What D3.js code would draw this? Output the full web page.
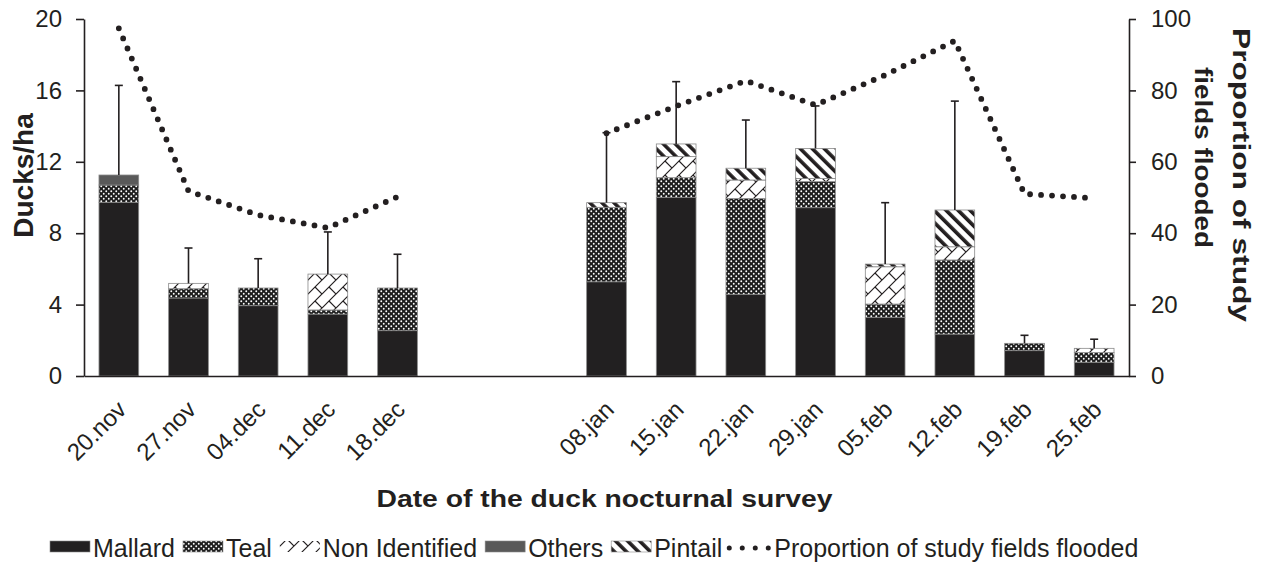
<!DOCTYPE html>
<html><head><meta charset="utf-8">
<script src="https://cdn.jsdelivr.net/npm/d3@7"></script>
<style>
body{margin:0;background:#fff}
text{font-family:"Liberation Sans",Arial,sans-serif;fill:#231f20}
</style>
</head><body>
<svg id="chart" width="1272" height="564"></svg>
<script>
// ---------- data ----------
const categories = ["20.nov","27.nov","04.dec","11.dec","18.dec","gap1","gap2","08.jan","15.jan","22.jan","29.jan","05.feb","12.feb","19.feb","25.feb"];
const tickLabels = ["20.nov","27.nov","04.dec","11.dec","18.dec","","","08.jan","15.jan","22.jan","29.jan","05.feb","12.feb","19.feb","25.feb"];
const mallard  = [9.73, 4.37, 3.94, 3.47, 2.54, null, null, 5.28, 10.01, 4.58, 9.43, 3.29, 2.35, 1.42, 0.77];
const teal     = [0.97, 0.52, 0.99, 0.23, 2.39, null, null, 4.17, 1.10, 5.37, 1.46, 0.74, 4.15, 0.41, 0.54];
const nonIdent = [0,    0.30, 0,    2.01, 0,    null, null, 0,    1.18, 1.03, 0.18, 2.09, 0.74, 0,    0.24];
const others   = [0.56, 0,    0,    0,    0,    null, null, 0,    0,    0,    0,    0,    0,    0,    0];
const pintail  = [0,    0,    0,    0,    0,    null, null, 0.26, 0.71, 0.66, 1.68, 0.15, 2.06, 0,    0];
const sdUpper  = [5.02, 1.98, 1.64, 2.36, 1.89, null, null, 3.92, 3.49, 2.70, 2.38, 3.44, 6.10, 0.45, 0.51];
const flooded  = [97.4, 51.8, 45.1, 41.5, 50.2, null, null, 68.0, 75.6, 82.7, 75.9, 84.3, 93.9, 51.0, 49.8];
const leftTicks  = [0, 4, 8, 12, 16, 20];
const rightTicks = [0, 20, 40, 60, 80, 100];
const seriesNames = ["Mallard","Teal","Non Identified","Others","Pintail"];
const lineName = "Proportion of study fields flooded";

// ---------- setup ----------
const svg = d3.select("#chart");
const mLeft = 84, mRight = 1129, mTop = 19, mBottom = 376;
const ink = "#231f20";

const x = d3.scaleBand().domain(categories).range([mLeft, mRight]).paddingInner(0.43).paddingOuter(0.215);
const y = d3.scaleLinear().domain([0, 20]).range([mBottom, mTop]);
const y2 = d3.scaleLinear().domain([0, 100]).range([mBottom, mTop]);

// ---------- patterns ----------
const defs = svg.append("defs");
const pTeal = defs.append("pattern").attr("id","pTeal").attr("patternUnits","userSpaceOnUse").attr("width",5).attr("height",5);
pTeal.append("rect").attr("width",5).attr("height",5).attr("fill","#1e1e1e");
pTeal.append("circle").attr("cx",1.25).attr("cy",1.25).attr("r",0.95).attr("fill","#fff");
pTeal.append("circle").attr("cx",3.75).attr("cy",3.75).attr("r",0.95).attr("fill","#fff");

const pNI = defs.append("pattern").attr("id","pNI").attr("patternUnits","userSpaceOnUse").attr("width",14).attr("height",14);
pNI.append("rect").attr("width",14).attr("height",14).attr("fill","#fff");
pNI.append("path").attr("d","M0,14L14,0 M7,7L14,14 M-1,1L1,-1 M13,15L15,13")
  .attr("stroke",ink).attr("stroke-width",1.2).attr("fill","none");

const pPin = defs.append("pattern").attr("id","pPin").attr("patternUnits","userSpaceOnUse").attr("width",8.5).attr("height",8.5)
  .attr("patternTransform","rotate(-45)");
pPin.append("rect").attr("width",8.5).attr("height",8.5).attr("fill","#fff");
pPin.append("rect").attr("width",3.6).attr("height",8.5).attr("fill",ink);

const fills = {"Mallard":"#222021","Teal":"url(#pTeal)","Non Identified":"url(#pNI)","Others":"#595959","Pintail":"url(#pPin)"};

// ---------- stacked bars ----------
const rows = categories.map((c,i)=>({cat:c, "Mallard":mallard[i], "Teal":teal[i], "Non Identified":nonIdent[i], "Others":others[i], "Pintail":pintail[i], sd:sdUpper[i]}))
  .filter(r => r.Mallard !== null);
const stack = d3.stack().keys(seriesNames)(rows);

const gBars = svg.append("g");
stack.forEach(s => {
  gBars.append("g").selectAll("rect").data(s.filter(d => d[1] - d[0] > 0)).join("rect")
    .attr("x", d => x(d.data.cat))
    .attr("width", x.bandwidth())
    .attr("y", d => y(d[1]))
    .attr("height", d => y(d[0]) - y(d[1]))
    .attr("fill", fills[s.key])
    .attr("stroke", "#8a8a8a").attr("stroke-width", 0.8);
});

// ---------- error bars ----------
const gErr = svg.append("g").attr("stroke", ink).attr("stroke-width", 1.6);
rows.forEach(r => {
  const tot = seriesNames.reduce((a,k)=>a + r[k], 0);
  const cx = x(r.cat) + x.bandwidth()/2;
  gErr.append("line").attr("x1",cx).attr("x2",cx).attr("y1",y(tot)).attr("y2",y(tot + r.sd));
  gErr.append("line").attr("x1",cx-4).attr("x2",cx+4).attr("y1",y(tot + r.sd)).attr("y2",y(tot + r.sd));
});

// ---------- dotted line ----------
const lineData = categories.map((c,i)=>({cat:c, v:flooded[i]}));
const line = d3.line().defined(d => d.v !== null)
  .x(d => x(d.cat) + x.bandwidth()/2).y(d => y2(d.v));
svg.append("path").datum(lineData).attr("d", line)
  .attr("fill","none").attr("stroke",ink).attr("stroke-width",5.8)
  .attr("stroke-linecap","round").attr("stroke-dasharray","0 11");

// ---------- axes ----------
const fs = "24px";
const gx = svg.append("g").attr("transform",`translate(0,${mBottom})`)
  .call(d3.axisBottom(x).tickSize(0).tickSizeOuter(0).tickFormat((d,i)=>tickLabels[i]));
gx.select(".domain").attr("stroke",ink).attr("stroke-width",1.6);
gx.selectAll("text").attr("font-size",fs).attr("fill",ink).attr("font-family","Liberation Sans, Arial, sans-serif")
  .attr("x",0).attr("y",0).attr("dy",null)
  .attr("text-anchor","end")
  .attr("transform","translate(9,35) rotate(-45)");

const gy = svg.append("g").attr("transform",`translate(${mLeft},0)`)
  .call(d3.axisLeft(y).tickValues(leftTicks).tickSize(8).tickSizeOuter(0).tickPadding(14));
gy.select(".domain").attr("stroke",ink).attr("stroke-width",1.6);
gy.selectAll(".tick line").attr("stroke",ink).attr("stroke-width",1.6);
gy.selectAll("text").attr("font-size",fs).attr("fill",ink).attr("font-family","Liberation Sans, Arial, sans-serif");

const gy2 = svg.append("g").attr("transform",`translate(${mRight},0)`)
  .call(d3.axisRight(y2).tickValues(rightTicks).tickSize(7).tickSizeOuter(0).tickPadding(15));
gy2.select(".domain").attr("stroke",ink).attr("stroke-width",1.6);
gy2.selectAll(".tick line").attr("stroke",ink).attr("stroke-width",1.6);
gy2.selectAll("text").attr("font-size",fs).attr("fill",ink).attr("font-family","Liberation Sans, Arial, sans-serif");

// ---------- titles ----------
svg.append("text").attr("transform","translate(33,175.5) rotate(-90)")
  .attr("text-anchor","middle").attr("font-size","28px").attr("font-weight","bold").text("Ducks/ha");

svg.append("text").attr("x",604.5).attr("y",507).attr("text-anchor","middle")
  .attr("font-size","23px").attr("font-weight","bold")
  .attr("textLength",456).attr("lengthAdjust","spacingAndGlyphs")
  .text("Date of the duck nocturnal survey");

svg.append("text").attr("transform","translate(1233,175) rotate(90)")
  .attr("text-anchor","middle").attr("font-size","24px").attr("font-weight","bold")
  .attr("textLength",294).attr("lengthAdjust","spacingAndGlyphs")
  .text("Proportion of study");
svg.append("text").attr("transform","translate(1195,157.5) rotate(90)")
  .attr("text-anchor","middle").attr("font-size","24px").attr("font-weight","bold")
  .attr("textLength",181).attr("lengthAdjust","spacingAndGlyphs")
  .text("fields flooded");

// ---------- legend ----------
const lg = svg.append("g");
let lx = 50;
const swY = 541, swH = 11, baseY = 557;
const legendItems = seriesNames.map(n => ({name:n, type:"bar"})).concat([{name:lineName, type:"line"}]);
legendItems.forEach(it => {
  if (it.type === "bar") {
    lg.append("rect").attr("x",lx).attr("y",swY).attr("width",40).attr("height",swH)
      .attr("fill",fills[it.name]).attr("stroke", it.name==="Non Identified" ? "none" : "#8a8a8a").attr("stroke-width",0.6);
    lx += 43;
  } else {
    lg.append("line").attr("x1",lx-1).attr("x2",lx+39).attr("y1",swY+7).attr("y2",swY+7)
      .attr("stroke",ink).attr("stroke-width",5).attr("stroke-linecap","round").attr("stroke-dasharray","0 13");
    lx += 44;
  }
  const t = lg.append("text").attr("x",lx).attr("y",baseY).attr("font-size","25px").text(it.name);
  lx += t.node().getComputedTextLength() + 8;
});
</script>
</body></html>
